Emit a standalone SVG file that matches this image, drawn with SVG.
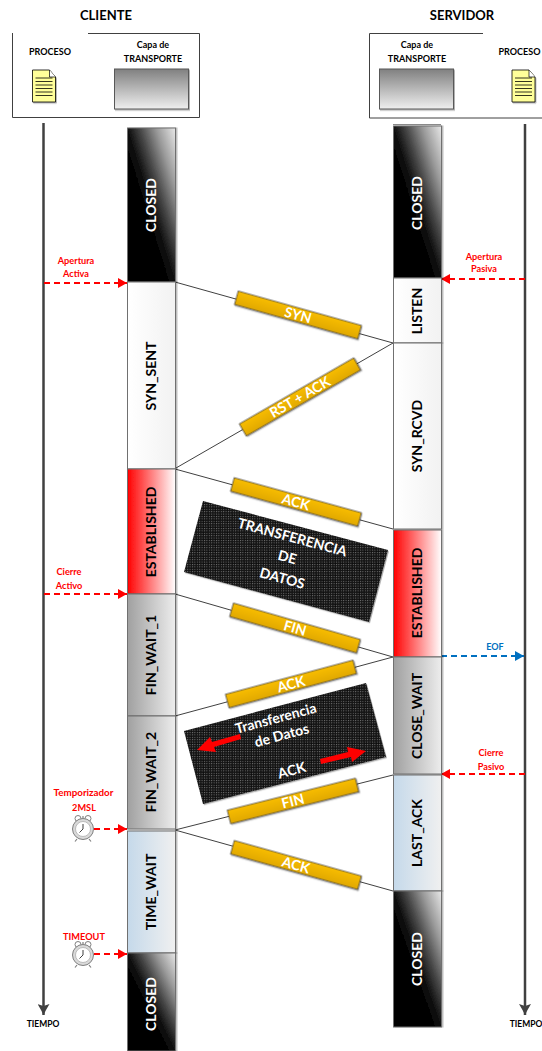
<svg xmlns="http://www.w3.org/2000/svg" width="542" height="1051" viewBox="0 0 542 1051">
<style>
text{font-family:"Lato","Carlito","Liberation Sans",sans-serif;font-weight:700;text-anchor:middle}
.st{fill:#000;font-size:14px}
.stw{fill:#fff;font-size:14px}
.box{stroke:#6f6f6f;stroke-width:1;filter:url(#shb)}
.lab{fill:#fff;font-size:14px}
.pan{fill:#fff;font-size:14px}
.red{fill:#f00;font-size:9.2px}
.blk{fill:#000;font-size:8.5px}
.cap{fill:#000;font-size:9px}
.ttl{fill:#000;font-size:13px}
.tl{stroke:#404040;stroke-width:2.5;fill:none}
.rd{stroke:#f00;stroke-width:1.8;stroke-dasharray:6 4;fill:none}
.bl{stroke:#0070c0;stroke-width:1.8;stroke-dasharray:6 4;fill:none}
.cn{stroke:#404040;stroke-width:1;fill:none}
.bar{fill:url(#gold);stroke:#404040;stroke-width:.8;filter:url(#sh)}
.tr{fill:url(#tg);stroke:#595959;stroke-width:1;filter:url(#sh)}
.doc{fill:#ffff99;stroke:#000;stroke-width:.8;filter:url(#sh)}
.dl{stroke:#000;stroke-width:.8}
.ck{fill:#fff;stroke:#7f7f7f;stroke-width:1}
</style>
<defs>
<linearGradient id="gb" x1="1" y1="0" x2="0" y2="1"><stop offset="0" stop-color="#e8e8e8"/><stop offset=".2" stop-color="#9a9a9a"/><stop offset=".38" stop-color="#444"/><stop offset=".5" stop-color="#111"/><stop offset=".6" stop-color="#000"/><stop offset="1" stop-color="#000"/></linearGradient>
<linearGradient id="gr" x1="0" x2="1" y1="0" y2="0"><stop offset="0" stop-color="#f00"/><stop offset="1" stop-color="#fff"/></linearGradient>
<linearGradient id="gg" x1="0" x2="1" y1="0" y2="0"><stop offset="0" stop-color="#a0a0a0"/><stop offset="1" stop-color="#ededed"/></linearGradient>
<linearGradient id="gl" x1="0" x2="1" y1="0" y2="0"><stop offset="0" stop-color="#c5d9ea"/><stop offset="1" stop-color="#f0f0f0"/></linearGradient>
<linearGradient id="gw" x1="0" x2="1" y1="0" y2="0"><stop offset="0" stop-color="#fff"/><stop offset="1" stop-color="#f2f2f2"/></linearGradient>
<linearGradient id="gold" x1="0" x2="0" y1="0" y2="1"><stop offset="0" stop-color="#f8bd00"/><stop offset="1" stop-color="#e0a800"/></linearGradient>
<linearGradient id="tg" x1="0" x2="0" y1="0" y2="1"><stop offset="0" stop-color="#808080"/><stop offset="1" stop-color="#efefef"/></linearGradient>
<pattern id="dots" width="2.4" height="2.4" patternUnits="userSpaceOnUse"><rect width="2.4" height="2.4" fill="#111"/><rect width="1" height="1" fill="#7a7a7a"/></pattern>
<filter id="sh" x="-10%" y="-20%" width="125%" height="150%"><feDropShadow dx="1" dy="1.2" stdDeviation=".7" flood-color="#000" flood-opacity=".3"/></filter>
<filter id="shb" x="-10%" y="-5%" width="125%" height="110%"><feDropShadow dx="1.500" dy="0" stdDeviation=".6" flood-color="#000" flood-opacity=".25"/></filter>
<marker id="mr" markerUnits="userSpaceOnUse" markerWidth="10" markerHeight="10" refX="9" refY="5" orient="auto"><path d="M0 0L9 5L0 10Z" fill="#f00"/></marker>
<marker id="mb" markerUnits="userSpaceOnUse" markerWidth="10" markerHeight="10" refX="9" refY="5" orient="auto"><path d="M0 0L9 5L0 10Z" fill="#0070c0"/></marker>
<marker id="mk" markerUnits="userSpaceOnUse" markerWidth="12" markerHeight="12" refX="11" refY="6" orient="auto"><path d="M0 0L6 3.5L11 6L6 8.5L0 12L2 6Z" fill="#404040"/></marker>
<g id="clk"><circle cx="-5" cy="-10.5" r="3" class="ck"/><circle cx="5" cy="-10.5" r="3" class="ck"/><path d="M-6 10L-8 12.5M6 10L8 12.5M0-13V-11" stroke="#7f7f7f" stroke-width="1.2"/><circle r="10.5" fill="#d9d9d9" stroke="#7f7f7f"/><circle r="7.5" fill="#fff" stroke="#a6a6a6" stroke-width=".7"/><path d="M0-5V0L-3.5 3.5" stroke="#404040" stroke-width="1" fill="none"/></g>
<g id="doc"><path d="M0 0H17L23 7V32H0Z" class="doc"/><path d="M17 0V7H23" fill="#fff" stroke="#000" stroke-width=".7"/><path d="M3 8H20M3 11.5H20M3 15H20M3 18.5H20M3 22H20M3 25.5H20" class="dl"/></g>
</defs>
<rect width="542" height="1051" fill="#fff"/>

<g id="titulos">
<text class="ttl" x="106" y="20">CLIENTE</text>
<text class="ttl" x="462" y="20">SERVIDOR</text>
</g>

<g id="cliente-cabecera">
<path d="M88 33.500H199.500V117.500H12.500V33" fill="none" stroke="#404040" stroke-width="1"/>
<text class="cap" x="50" y="55">PROCESO</text>
<text class="cap" x="153" y="48">Capa de</text>
<text class="cap" x="153" y="62">TRANSPORTE</text>
<use href="#doc" x="32.500" y="70"/>
<rect class="tr" x="114.500" y="69" width="74" height="40"/>
</g>
<g id="servidor-cabecera">
<path d="M483 33.500H369.500V118H542" fill="none" stroke="#404040" stroke-width="1"/>
<text class="cap" x="417" y="48">Capa de</text>
<text class="cap" x="417" y="62">TRANSPORTE</text>
<text class="cap" x="519.500" y="55">PROCESO</text>
<rect class="tr" x="379.500" y="69" width="74" height="40"/>
<use href="#doc" x="512" y="70"/>
</g>

<g id="conectores">
<path class="tl" d="M43.500 123V1015" marker-end="url(#mk)"/>
<path class="tl" d="M525 124V1015" marker-end="url(#mk)"/>
<path class="cn" d="M175 282L393 343M176 468L393 343M175 469L393 529M175 594L393 657M175 716L393 657M175 830L393 775M175 830L393 891"/>
<path class="rd" d="M44 283H127" marker-end="url(#mr)"/>
<path class="rd" d="M525 279H441" marker-end="url(#mr)"/>
<path class="rd" d="M44 594H127" marker-end="url(#mr)"/>
<path class="rd" d="M525 774H441" marker-end="url(#mr)"/>
<path class="rd" d="M94 829H127" marker-end="url(#mr)"/>
<path class="rd" d="M94 954H127" marker-end="url(#mr)"/>
<path class="bl" d="M441 656H524" marker-end="url(#mb)"/>
</g>

<g id="cl-closed1"><rect class="box" x="127.500" y="128" width="48" height="154" fill="url(#gb)"/><text class="stw" transform="translate(156 205) rotate(-90)">CLOSED</text></g>
<g id="cl-syn-sent"><rect class="box" x="127.500" y="282" width="48" height="187" fill="url(#gw)"/><text class="st" transform="translate(156 376) rotate(-90)">SYN_SENT</text></g>
<g id="cl-established"><rect class="box" x="127.500" y="469" width="48" height="125" fill="url(#gr)"/><text class="st" transform="translate(156 532) rotate(-90)">ESTABLISHED</text></g>
<g id="cl-fin1"><rect class="box" x="127.500" y="594" width="48" height="122" fill="url(#gg)"/><text class="st" transform="translate(156 655) rotate(-90)">FIN_WAIT_1</text></g>
<g id="cl-fin2"><rect class="box" x="127.500" y="716" width="48" height="113" fill="url(#gg)"/><text class="st" transform="translate(156 772) rotate(-90)">FIN_WAIT_2</text></g>
<g id="cl-time-wait"><rect class="box" x="127.500" y="831" width="48" height="122" fill="url(#gl)"/><text class="st" transform="translate(156 892) rotate(-90)">TIME_WAIT</text></g>
<g id="cl-closed2"><rect class="box" x="127.500" y="953" width="48" height="98" fill="url(#gb)"/><text class="stw" transform="translate(156 1004) rotate(-90)">CLOSED</text></g>

<g id="sv-closed1"><path d="M393 124.500H441" stroke="#8a8a8a" stroke-width="1"/><rect class="box" x="393.500" y="126" width="48" height="152" fill="url(#gb)"/><text class="stw" transform="translate(422 203) rotate(-90)">CLOSED</text></g>
<g id="sv-listen"><rect class="box" x="393.500" y="278" width="48" height="65" fill="url(#gw)"/><text class="st" transform="translate(422 311) rotate(-90)">LISTEN</text></g>
<g id="sv-syn-rcvd"><rect class="box" x="393.500" y="343" width="48" height="186" fill="url(#gw)"/><text class="st" transform="translate(422 436) rotate(-90)">SYN_RCVD</text></g>
<g id="sv-established"><rect class="box" x="393.500" y="530" width="48" height="127" fill="url(#gr)"/><text class="st" transform="translate(422 593) rotate(-90)">ESTABLISHED</text></g>
<g id="sv-close-wait"><rect class="box" x="393.500" y="657" width="48" height="117" fill="url(#gg)"/><text class="st" transform="translate(422 716) rotate(-90)">CLOSE_WAIT</text></g>
<g id="sv-last-ack"><rect class="box" x="393.500" y="775" width="48" height="116" fill="url(#gl)"/><text class="st" transform="translate(422 833) rotate(-90)">LAST_ACK</text></g>
<g id="sv-closed2"><rect class="box" x="393.500" y="891" width="48" height="136" fill="url(#gb)"/><text class="stw" transform="translate(422 959) rotate(-90)">CLOSED</text></g>

<g id="msg-syn" transform="translate(298 315) rotate(15.600)"><rect class="bar" x="-64" y="-7" width="128" height="14"/><text class="lab" y="5">SYN</text></g>
<g id="msg-rst" transform="translate(300 397) rotate(-30)"><rect class="bar" x="-66" y="-7" width="132" height="14"/><text class="lab" y="5">RST + ACK</text></g>
<g id="msg-ack1" transform="translate(296 502) rotate(15.400)"><rect class="bar" x="-66" y="-7" width="132" height="14"/><text class="lab" y="5">ACK</text></g>
<g id="msg-fin1" transform="translate(295 628) rotate(16)"><rect class="bar" x="-66" y="-7" width="132" height="14"/><text class="lab" y="5">FIN</text></g>
<g id="msg-ack2" transform="translate(291 684) rotate(-15)"><rect class="bar" x="-66" y="-7" width="132" height="14"/><text class="lab" y="5">ACK</text></g>
<g id="msg-fin2" transform="translate(293 801) rotate(-14)"><rect class="bar" x="-66" y="-7" width="132" height="14"/><text class="lab" y="5">FIN</text></g>
<g id="msg-ack3" transform="translate(296 865) rotate(15.600)"><rect class="bar" x="-66" y="-7" width="132" height="14"/><text class="lab" y="5">ACK</text></g>

<g id="panel-datos">
<path d="M203 501L388 550L369 622L184 572Z" fill="url(#dots)" filter="url(#sh)"/>
<text class="pan" transform="translate(291 542) rotate(15)">TRANSFERENCIA</text>
<text class="pan" transform="translate(286 562) rotate(15)">DE</text>
<text class="pan" transform="translate(281 583) rotate(15)">DATOS</text>
</g>
<g id="panel-transferencia">
<path d="M184 731L366 683L386 757L203 804Z" fill="url(#dots)" filter="url(#sh)"/>
<text class="pan" transform="translate(277 723) rotate(-15)">Transferencia</text>
<text class="pan" transform="translate(283 740) rotate(-15)">de Datos</text>
<text class="pan" transform="translate(293 775) rotate(-15)">ACK</text>
<path d="M240 734L212 742L210 737L197 750L216 752L214 747L241 739Z" fill="#f00"/>
<path d="M320 759L348 752L347 747L366 751L352 762L351 757L321 764Z" fill="#f00"/>
</g>

<g id="etiquetas">
<text class="red" x="76" y="264">Apertura</text><text class="red" x="76" y="277">Activa</text>
<text class="red" x="484" y="260">Apertura</text><text class="red" x="484" y="272">Pasiva</text>
<text class="red" x="69" y="575">Cierre</text><text class="red" x="69" y="589">Activo</text>
<text class="red" x="491" y="756">Cierre</text><text class="red" x="491" y="770">Pasivo</text>
<text x="495" y="650" fill="#0070c0" font-size="9">EOF</text>
<text class="red" x="83.500" y="796" style="font-size:9.800px">Temporizador</text><text class="red" x="84" y="811">2MSL</text>
<text class="red" x="84" y="940">TIMEOUT</text>
<text class="blk" x="43" y="1027">TIEMPO</text>
<text class="blk" x="526" y="1027">TIEMPO</text>
</g>
<use id="reloj1" href="#clk" x="83" y="829"/>
<use id="reloj2" href="#clk" x="83" y="955"/>
</svg>
